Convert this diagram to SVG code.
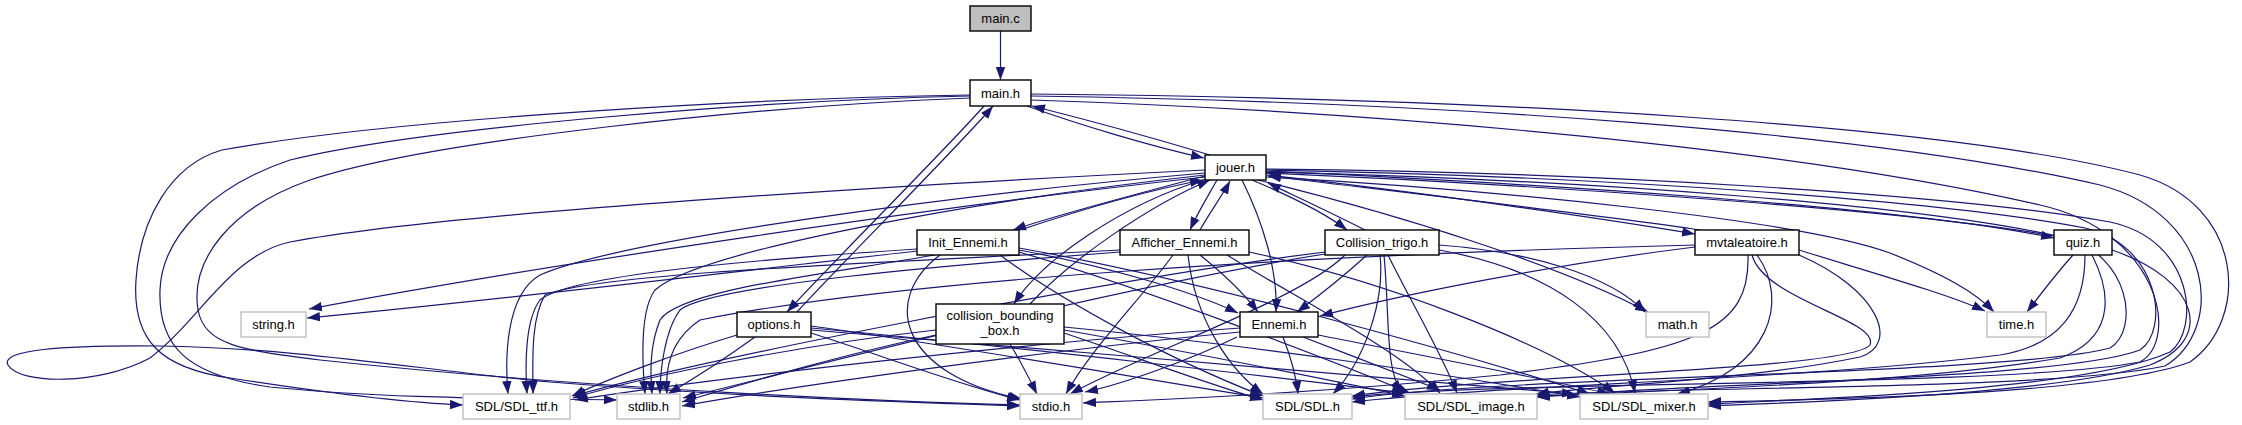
<svg xmlns="http://www.w3.org/2000/svg" width="2242" height="425" viewBox="0 0 2242 425">
<style>
.e{fill:none;stroke:#191970;stroke-width:1.2;marker-end:url(#ah)}
.n rect{fill:#fff;stroke:#000;stroke-width:1.4}
.g rect{fill:#fff;stroke:#bfbfbf;stroke-width:1.4}
.r rect{fill:#bfbfbf;stroke:#000;stroke-width:1.4}
text{font-family:"Liberation Sans",Arial,sans-serif;font-size:13px;text-anchor:middle;fill:#000}
</style>
<defs>
<marker id="ah" markerUnits="userSpaceOnUse" markerWidth="13" markerHeight="10" viewBox="0 0 13 10" refX="13" refY="5" orient="auto">
<path d="M0,0.3 L13,5 L0,9.7 z" fill="#191970"/>
</marker>
</defs>
<rect width="2242" height="425" fill="#fff"/>
<g id="edges">
<path class="e" d="M1000.5,31 L1000.5,80"/>
<path class="e" d="M1027,106 C1080,125 1150,146 1204,158"/>
<path class="e" d="M1210,155 C1160,140 1080,118 1032,106"/>
<path class="e" d="M984,106 C950,145 830,265 787,312"/>
<path class="e" d="M797,312 C835,270 960,145 993,106"/>
<path class="e" d="M970,95 C760,98 400,118 222,150 C170,165 140,220 136,280 C132,340 160,368 230,378 C320,392 410,403 463,405"/>
<path class="e" d="M970,96 C760,100 420,128 290,160 C215,185 162,235 160,290 C158,345 185,375 270,387 C400,400 530,398 617,400"/>
<path class="e" d="M970,98 C760,106 430,140 310,180 C230,208 190,260 198,310 C205,345 240,350 320,360 C600,390 900,402 1020,405"/>
<path class="e" d="M1031,94 C1500,98 1950,125 2140,175 C2245,205 2250,320 2190,362 C2100,396 1800,400 1708,402"/>
<path class="e" d="M1031,96 C1450,102 1870,132 2100,185 C2215,215 2225,330 2165,366 C2050,390 1700,386 1535,395"/>
<path class="e" d="M1031,100 C1400,112 1800,150 2040,205 C2160,232 2180,340 2140,362 C2000,388 1500,380 1351,397"/>
<path class="e" d="M1205,176 C1140,193 1060,214 1013,230"/>
<path class="e" d="M1217,180 C1208,196 1198,212 1190,230"/>
<path class="e" d="M1252,180 C1290,196 1325,213 1347,230"/>
<path class="e" d="M1206,179 C1120,205 1040,262 1014,304"/>
<path class="e" d="M1242,180 C1262,220 1278,270 1276,312"/>
<path class="e" d="M1266,175 C1420,192 1600,218 1695,234"/>
<path class="e" d="M1266,171 C1500,182 1900,205 2054,238"/>
<path class="e" d="M1205,177 C950,205 560,262 309,309"/>
<path class="e" d="M1258,180 C1400,215 1560,265 1648,312"/>
<path class="e" d="M1266,177 C1500,190 1800,220 1890,253 C1945,275 1975,292 1994,312"/>
<path class="e" d="M1205,170 C900,185 450,212 290,242 C230,255 200,320 150,358 C100,385 20,385 8,365 C0,350 60,345 160,346 C300,348 420,370 550,382 C750,398 930,403 1020,406"/>
<path class="e" d="M1205,173 C950,195 620,240 540,275 C505,295 505,360 508,394"/>
<path class="e" d="M1205,175 C980,200 700,250 655,290 C640,310 642,360 645,394"/>
<path class="e" d="M1266,169 C1600,172 1960,195 2110,222 C2195,240 2200,330 2170,352 C2090,388 1850,398 1708,404"/>
<path class="e" d="M1266,170 C1600,176 1940,200 2085,228 C2160,245 2170,330 2140,350 C2060,380 1700,382 1536,397"/>
<path class="e" d="M1266,172 C1600,180 1930,206 2065,238 C2130,255 2140,330 2110,348 C2010,375 1500,376 1352,399"/>
<path class="e" d="M737,335 C680,352 610,378 572,396"/>
<path class="e" d="M755,337 C730,355 695,378 668,394"/>
<path class="e" d="M811,333 C880,355 960,385 1020,400"/>
<path class="e" d="M811,326 C950,345 1150,380 1263,398"/>
<path class="e" d="M811,328 C1000,345 1300,380 1405,393"/>
<path class="e" d="M811,330 C1050,350 1400,378 1575,394"/>
<path class="e" d="M1020,230 C1080,210 1150,190 1203,180"/>
<path class="e" d="M917,251 C750,270 500,300 307,318"/>
<path class="e" d="M1019,250 C1100,265 1190,290 1238,313"/>
<path class="e" d="M917,249 C750,260 570,275 540,300 C525,320 525,365 527,394"/>
<path class="e" d="M935,255 C820,275 680,290 660,320 C650,345 650,370 652,394"/>
<path class="e" d="M940,255 C880,300 900,375 1022,399"/>
<path class="e" d="M1000,255 C1060,300 1170,360 1263,396"/>
<path class="e" d="M1019,252 C1150,290 1330,360 1410,393"/>
<path class="e" d="M1019,248 C1200,280 1450,350 1590,394"/>
<path class="e" d="M1200,230 C1210,212 1222,196 1230,181"/>
<path class="e" d="M1200,255 C1225,275 1245,295 1258,312"/>
<path class="e" d="M1120,250 C900,262 600,272 545,295 C530,320 533,365 533,394"/>
<path class="e" d="M1120,252 C950,265 710,285 680,310 C665,330 660,370 660,394"/>
<path class="e" d="M1173,255 C1140,300 1090,350 1066,394"/>
<path class="e" d="M1188,255 C1195,320 1230,370 1263,394"/>
<path class="e" d="M1227,255 C1300,300 1400,350 1440,393"/>
<path class="e" d="M1249,252 C1380,280 1540,340 1615,393"/>
<path class="e" d="M1365,230 C1330,212 1295,196 1268,183"/>
<path class="e" d="M1367,255 C1345,275 1320,295 1297,312"/>
<path class="e" d="M1439,245 C1530,252 1610,275 1645,312"/>
<path class="e" d="M1325,252 C1100,280 700,360 573,396"/>
<path class="e" d="M1325,254 C1100,290 800,370 683,398"/>
<path class="e" d="M1345,255 C1300,300 1150,350 1070,394"/>
<path class="e" d="M1380,255 C1385,300 1365,360 1333,394"/>
<path class="e" d="M1384,255 C1390,320 1385,370 1402,393"/>
<path class="e" d="M1388,255 C1410,300 1440,350 1457,393"/>
<path class="e" d="M1439,250 C1550,270 1620,320 1635,393"/>
<path class="e" d="M1030,304 C1070,260 1150,205 1210,180"/>
<path class="e" d="M936,330 C800,345 650,375 573,398"/>
<path class="e" d="M936,335 C840,355 740,385 682,402"/>
<path class="e" d="M1010,344 C1020,360 1030,380 1037,394"/>
<path class="e" d="M1064,333 C1130,355 1210,385 1263,400"/>
<path class="e" d="M1064,330 C1180,350 1330,380 1405,396"/>
<path class="e" d="M1064,327 C1250,345 1450,375 1580,397"/>
<path class="e" d="M1240,328 C1000,345 700,380 575,400"/>
<path class="e" d="M1240,332 C1050,350 800,385 682,406"/>
<path class="e" d="M1237,337 C1190,360 1120,385 1085,392"/>
<path class="e" d="M1283,337 C1290,355 1296,375 1298,394"/>
<path class="e" d="M1303,337 C1350,355 1410,378 1440,390"/>
<path class="e" d="M1318,335 C1420,355 1550,380 1610,394"/>
<path class="e" d="M1700,230 C1600,215 1400,192 1268,176"/>
<path class="e" d="M1695,247 C1550,265 1400,295 1320,316"/>
<path class="e" d="M1799,250 C1880,275 1950,295 1985,311"/>
<path class="e" d="M1695,245 C1300,255 900,280 700,320 C670,340 665,370 667,394"/>
<path class="e" d="M1748,255 C1750,330 1700,350 1500,375 C1300,395 1150,400 1083,403"/>
<path class="e" d="M1752,255 C1764,300 1880,320 1870,345 C1850,370 1500,375 1352,396"/>
<path class="e" d="M1799,255 C1880,290 1900,345 1860,357 C1750,380 1600,385 1536,394"/>
<path class="e" d="M1757,255 C1790,300 1770,370 1677,394"/>
<path class="e" d="M2054,236 C1900,208 1500,183 1266,173"/>
<path class="e" d="M2073,255 C2055,275 2040,295 2027,312"/>
<path class="e" d="M2085,255 C2085,310 2060,345 2000,355 C1800,380 1500,385 1352,402"/>
<path class="e" d="M2092,255 C2115,300 2110,340 2060,358 C1900,385 1650,390 1537,397"/>
<path class="e" d="M2112,250 C2200,280 2215,340 2150,365 C2050,395 1800,402 1708,406"/>
</g>
<g id="main_c" class="r"><rect x="970" y="6" width="61" height="25"/><text x="1000.5" y="23">main.c</text></g>
<g id="main_h" class="n"><rect x="970" y="80" width="61" height="26"/><text x="1000.5" y="97.5">main.h</text></g>
<g id="jouer_h" class="n"><rect x="1205" y="155" width="61" height="25"/><text x="1235.5" y="172">jouer.h</text></g>
<g id="init_ennemi_h" class="n"><rect x="917" y="230" width="102" height="25"/><text x="968" y="247">Init_Ennemi.h</text></g>
<g id="afficher_ennemi_h" class="n"><rect x="1120" y="230" width="129" height="25"/><text x="1184.5" y="247">Afficher_Ennemi.h</text></g>
<g id="collision_trigo_h" class="n"><rect x="1325" y="230" width="114" height="25"/><text x="1382" y="247">Collision_trigo.h</text></g>
<g id="mvtaleatoire_h" class="n"><rect x="1695" y="230" width="104" height="25"/><text x="1747" y="247">mvtaleatoire.h</text></g>
<g id="quiz_h" class="n"><rect x="2054" y="230" width="58" height="25"/><text x="2083" y="247">quiz.h</text></g>
<g id="string_h" class="g"><rect x="241" y="312" width="65" height="25"/><text x="273.5" y="329">string.h</text></g>
<g id="options_h" class="n"><rect x="737" y="312" width="74" height="25"/><text x="774" y="329">options.h</text></g>
<g id="collision_bounding_box_h" class="n"><rect x="936" y="304" width="128" height="40"/><text x="1000" y="320">collision_bounding</text><text x="1000" y="335">_box.h</text></g>
<g id="ennemi_h" class="n"><rect x="1240" y="312" width="78" height="25"/><text x="1279" y="329">Ennemi.h</text></g>
<g id="math_h" class="g"><rect x="1646" y="312" width="63" height="25"/><text x="1677.5" y="329">math.h</text></g>
<g id="time_h" class="g"><rect x="1987" y="312" width="59" height="25"/><text x="2016.5" y="329">time.h</text></g>
<g id="sdl_ttf_h" class="g"><rect x="463" y="394" width="107" height="25"/><text x="516.5" y="411">SDL/SDL_ttf.h</text></g>
<g id="stdlib_h" class="g"><rect x="617" y="394" width="63" height="25"/><text x="648.5" y="411">stdlib.h</text></g>
<g id="stdio_h" class="g"><rect x="1020" y="394" width="62" height="25"/><text x="1051" y="411">stdio.h</text></g>
<g id="sdl_h" class="g"><rect x="1263" y="394" width="89" height="25"/><text x="1307.5" y="411">SDL/SDL.h</text></g>
<g id="sdl_image_h" class="g"><rect x="1405" y="394" width="132" height="25"/><text x="1471" y="411">SDL/SDL_image.h</text></g>
<g id="sdl_mixer_h" class="g"><rect x="1580" y="394" width="128" height="25"/><text x="1644" y="411">SDL/SDL_mixer.h</text></g>
</svg>
